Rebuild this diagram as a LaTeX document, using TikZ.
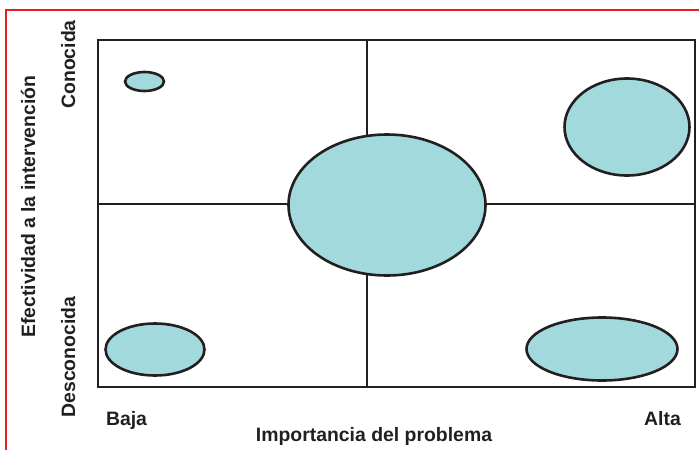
\documentclass[tikz,border=0pt]{standalone}
\usepackage{fontspec}
\setmainfont{Liberation Sans}
\usetikzlibrary{shapes.geometric}
\definecolor{redline}{HTML}{ED1C24}
\definecolor{ink}{HTML}{231F20}
\definecolor{blobfill}{HTML}{A1D9DD}
\tikzset{
  blob/.style={ellipse, draw=ink, fill=blobfill, line width=2.6pt, inner sep=0pt, outer sep=0pt},
  lbl/.style={font=\bfseries\fontsize{19.4}{21}\selectfont, text=ink, inner sep=0pt, anchor=base},
}
\begin{document}
\begin{tikzpicture}[x=1pt,y=-1pt]
\useasboundingbox (0,0) rectangle (699,450);
% red frame
\draw[redline, line width=1.8pt] (6,450) -- (6,10) -- (699,10);
% box
\draw[ink, line width=2.8pt] (98,40) rectangle (695,387);
\coordinate (vt) at (367,40);
\coordinate (vb) at (367,387);
\coordinate (hl) at (98,204);
\coordinate (hr) at (695,204);
\draw[ink, line width=2.2pt] (vt) -- (vb);
\draw[ink, line width=2.2pt] (hl) -- (hr);
% ellipses
\node[blob, minimum width=39pt, minimum height=19pt] (e1) at (144.5,81.5) {};
\node[blob, minimum width=125pt, minimum height=97pt] (e2) at (627,127) {};
\node[blob, minimum width=197pt, minimum height=141pt] (e3) at (387,205) {};
\node[blob, minimum width=99pt, minimum height=52pt] (e4) at (155,349.5) {};
\node[blob, minimum width=151pt, minimum height=63pt] (e5) at (602,349) {};
% labels
\node[lbl] (baja) at (126.5,425) {Baja};
\node[lbl] (alta) at (662.5,425) {Alta};
\node[lbl] (xlab) at (374,441) {Importancia del problema};
\node[lbl, rotate=90] (con) at (75,64.5) {Conocida};
\node[lbl, rotate=90] (des) at (75,357) {Desconocida};
\node[lbl, rotate=90] (ylab) at (35,206.5) {Efectividad a la intervención};
\end{tikzpicture}
\end{document}
